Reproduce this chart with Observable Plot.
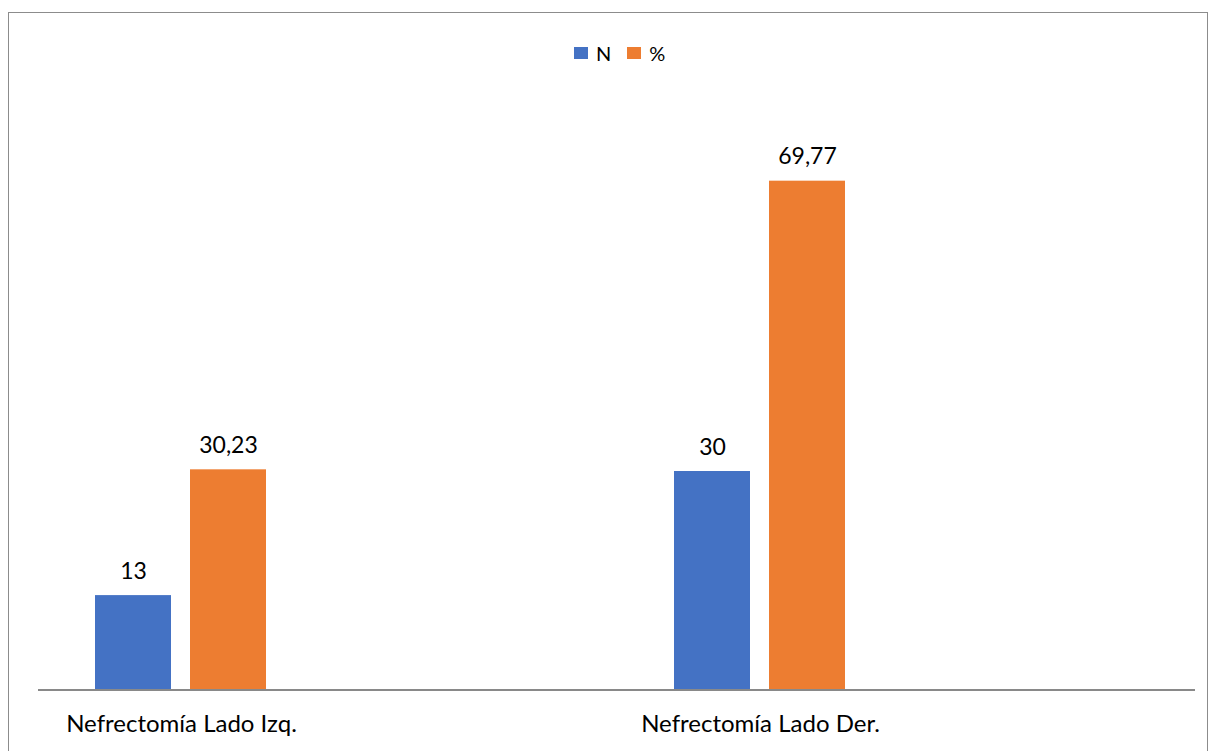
<!DOCTYPE html>
<html><head><meta charset="utf-8">
<script src="https://cdn.jsdelivr.net/npm/d3@7"></script>
<script src="https://cdn.jsdelivr.net/npm/@observablehq/plot@0.6"></script>
<style>
body{margin:0;background:#fff;font-family:Lato,sans-serif;overflow:hidden;width:1210px;height:751px;position:relative}
#border{position:absolute;left:8px;top:12px;width:1200px;height:800px;border:1.5px solid #8c8c8c;box-sizing:border-box}
#legend{position:absolute;left:574px;top:41px;height:24px;display:flex;align-items:center;font-size:20px;color:#000}
#legend .sw{width:14px;height:12px;display:inline-block;margin-right:8px}
#legend .item{display:flex;align-items:center;margin-right:16px}
#chart{position:absolute;left:0;top:73px}
</style></head>
<body>
<div id="border"></div>
<div id="legend"></div>
<div id="chart"></div>
<script>
const categories = ["Nefrectomía Lado Izq.", "Nefrectomía Lado Der."];
const series = ["N", "%"];
const colors = ["#4472C4", "#ED7D31"];
const nValues = [13, 30];
const pctValues = [30.23, 69.77];

const data = [];
categories.forEach((c, i) => {
  data.push({category: c, series: "N", value: nValues[i], label: String(nValues[i]).replace(".", ",")});
  data.push({category: c, series: "%", value: pctValues[i], label: String(pctValues[i]).replace(".", ",")});
});

const legend = document.getElementById("legend");
series.forEach((s, i) => {
  const it = document.createElement("div");
  it.className = "item";
  const sw = document.createElement("span");
  sw.className = "sw";
  sw.style.background = colors[i];
  it.appendChild(sw);
  it.appendChild(document.createTextNode(s));
  legend.appendChild(it);
});

const W = 1210, H = 678, ML = 38, MR = 15;
const chart = Plot.plot({
  width: W, height: H,
  marginTop: 33, marginBottom: 61, marginLeft: ML, marginRight: MR,
  style: {fontFamily: "Lato, sans-serif", background: "transparent"},
  fx: {domain: categories, paddingInner: 0.506, paddingOuter: 0.252, align: 0, label: null},
  x: {domain: series, paddingInner: 0.198, paddingOuter: 0.589, axis: null},
  y: {domain: [0, 80], axis: null},
  color: {domain: series, range: colors},
  marks: [
    Plot.barY(data, {fx: "category", x: "series", y: "value", fill: "series"}),
    Plot.text(data, {fx: "category", x: "series", y: "value", text: "label", lineAnchor: "bottom", dy: -17, fontSize: 23, fill: "#000"}),
    Plot.axisFx({anchor: "bottom", tickSize: 0, tickPadding: 24, fontSize: 24, label: null, fill: "#000"})
  ]
});
// category-axis baseline spanning the whole plot area, placed with the plot's y scale
const y0 = chart.scale("y").apply(0);
d3.select(chart).append("line")
  .attr("x1", ML).attr("x2", W - MR)
  .attr("y1", y0).attr("y2", y0)
  .attr("stroke", "#898989").attr("stroke-width", 2);
document.getElementById("chart").appendChild(chart);
</script>
</body></html>
